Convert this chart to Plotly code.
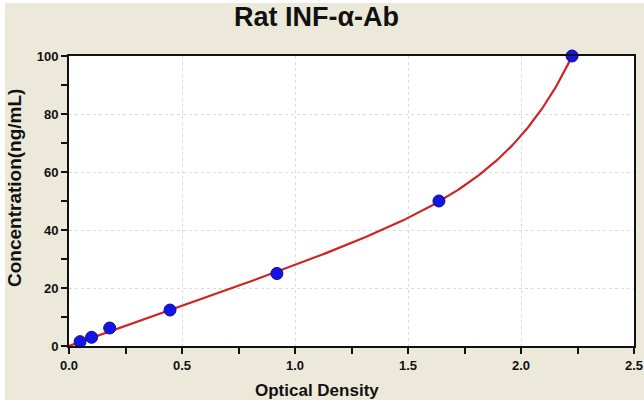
import numpy as np
import plotly.graph_objects as go

od = [0.049, 0.10, 0.18, 0.447, 0.92, 1.637, 2.226]
conc = [1.5, 3.0, 6.2, 12.4, 25.0, 50.0, 100.0]

x_ticks = [0.0, 0.5, 1.0, 1.5, 2.0, 2.5]
x_ticktext = ["0.0", "0.5", "1.0", "1.5", "2.0", "2.5"]
y_ticks = [0, 20, 40, 60, 80, 100]

# fitted standard curve: y = a*x + b*(exp(k*x)-1); a, b by least squares
k_rate = 3.5
fx = np.array(od)
fy = np.array(conc)
A = np.column_stack([fx, np.exp(k_rate * fx) - 1.0])
(a_fit, b_fit), *_ = np.linalg.lstsq(A, fy, rcond=None)
cx = np.linspace(0.0, od[-1], 300)
cy = a_fit * cx + b_fit * (np.exp(k_rate * cx) - 1.0)

fig = go.Figure()
fig.add_trace(go.Scatter(x=cx, y=cy, mode="lines",
                         line=dict(color="#D02424", width=2.2),
                         hoverinfo="skip", showlegend=False))
fig.add_trace(go.Scatter(x=od, y=conc, mode="markers",
                         marker=dict(color="#1414E6", size=12,
                                     line=dict(color="#0A0A8C", width=1)),
                         showlegend=False, cliponaxis=False))

font_b = "Liberation Sans"
W, H = 644, 403
L, R, T, B = 69, 10, 56, 57
PW, PH = W - L - R, H - T - B


def px(x):
    return (x - L) / PW


def py(y):
    return (H - B - y) / PH


fig.update_layout(
    width=W, height=H,
    margin=dict(l=L, r=R, t=T, b=B, autoexpand=False),
    paper_bgcolor="#ECE9DA",
    plot_bgcolor="white",
    font=dict(family=font_b, color="#111111"),
    xaxis=dict(range=[0, 2.5], tickvals=x_ticks, ticktext=["<b>%s</b>" % t for t in x_ticktext],
               ticks="outside", ticklen=6, tickwidth=2, tickcolor="#111111",
               showline=True, linewidth=2, linecolor="#111111", mirror=True,
               showgrid=True, gridcolor="#DADADA", griddash="dot", gridwidth=1,
               zeroline=False, tickfont=dict(size=13), automargin=False,
               minor=dict(dtick=0.25, tick0=0, ticks="outside", ticklen=6, tickwidth=2,
                          tickcolor="#111111", showgrid=False)),
    yaxis=dict(range=[0, 100], tickvals=y_ticks, ticktext=["<b>%d</b>" % t for t in y_ticks],
               ticks="outside", ticklen=6, tickwidth=2, tickcolor="#111111",
               showline=True, linewidth=2, linecolor="#111111", mirror=True,
               showgrid=True, gridcolor="#DADADA", griddash="dot", gridwidth=1,
               zeroline=False, tickfont=dict(size=13), automargin=False,
               minor=dict(dtick=10, tick0=0, ticks="outside", ticklen=6, tickwidth=2,
                          tickcolor="#111111", showgrid=False)),
    annotations=[
        dict(text="<b>Rat INF-α-Ab</b>", xref="paper", yref="paper", x=px(316), y=py(17),
             xanchor="center", yanchor="middle", showarrow=False,
             font=dict(family=font_b, size=27, color="#111111")),
        dict(text="<b>Optical Density</b>", xref="paper", yref="paper", x=px(317), y=py(390),
             xanchor="center", yanchor="middle", showarrow=False,
             font=dict(family=font_b, size=17, color="#111111")),
        dict(text="<b>Concentration(ng/mL)</b>", xref="paper", yref="paper", x=px(14), y=py(188),
             xanchor="center", yanchor="middle", showarrow=False, textangle=-90,
             font=dict(family=font_b, size=19, color="#111111")),
    ],
    shapes=[
        dict(type="rect", xref="paper", yref="paper", x0=px(0), x1=px(5),
             y0=py(H), y1=py(0), fillcolor="white", line_width=0, layer="above"),
        dict(type="rect", xref="paper", yref="paper", x0=px(0), x1=px(W),
             y0=py(H), y1=py(400), fillcolor="white", line_width=0, layer="above"),
        dict(type="rect", xref="paper", yref="paper", x0=px(0), x1=px(W),
             y0=py(3), y1=py(0), fillcolor="white", line_width=0, layer="above"),
    ],
)

fig.write_html("out.html", config={"displayModeBar": False},
               post_script="document.body.style.margin='0';")
